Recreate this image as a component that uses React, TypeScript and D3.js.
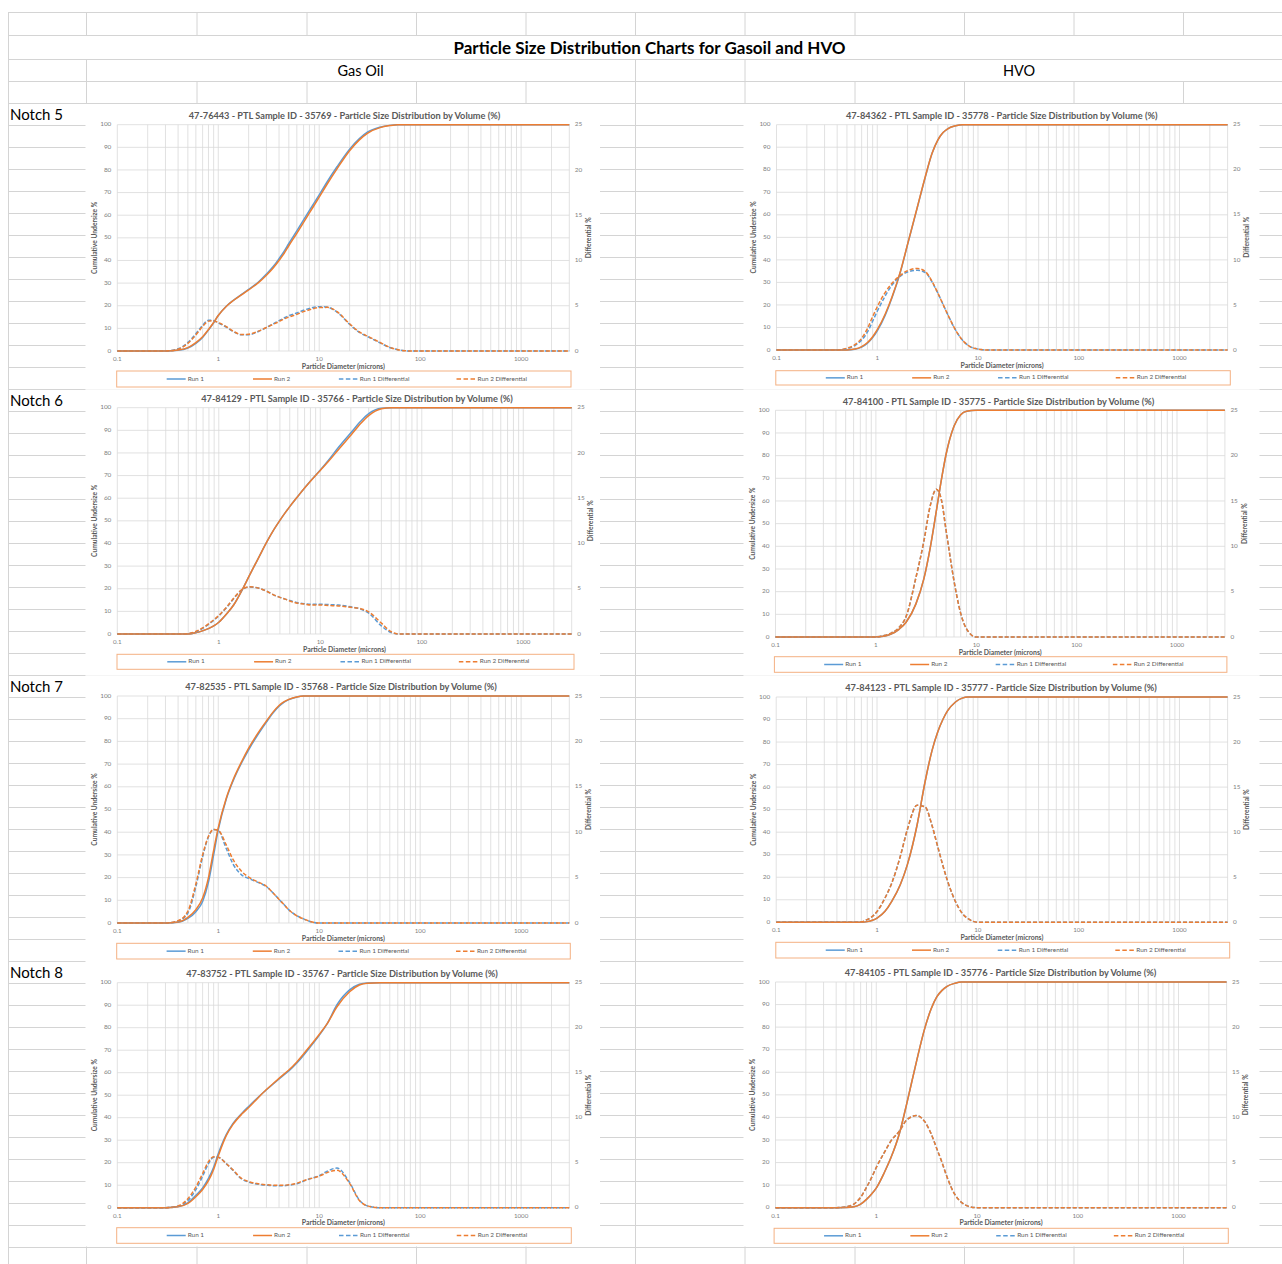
import * as d3 from "d3"

// particle diameters (microns) shared by every series
const SIZES = [0.1, 0.3, 0.4, 0.5, 0.6, 0.7, 0.8, 0.9, 1, 1.2, 1.4, 1.7, 2, 2.5, 3, 3.5, 4, 4.5, 5, 6, 7, 8, 10, 12, 15, 20, 25, 30, 40, 50, 60, 80, 100, 3000]

const X_LABELS = [0.1, 1, 10, 100, 1000]
const CUM_TICKS = [0, 10, 20, 30, 40, 50, 60, 70, 80, 90, 100]
const DIFF_TICKS = [0, 5, 10, 15, 20, 25]
const SERIES_NAMES = ["Run 1", "Run 2", "Run 1 Differential", "Run 2 Differential"]
const ROW_LABELS = ["Notch 5", "Notch 6", "Notch 7", "Notch 8"]

// Gas Oil - Notch 5
const GO5_RUN1 = [0, 0, 0.3, 1.3, 3.4, 6.0, 9.3, 12.5, 15.7, 19.8, 22.3, 25, 27.2, 30.5, 34, 37.3, 40.8, 44.1, 47.5, 53.1, 57.9, 62.1, 69, 74.8, 81.4, 89.2, 93.9, 96.7, 98.9, 99.7, 100, 100, 100, 100]
const GO5_RUN2 = [0, 0, 0.4, 1.5, 3.7, 6.3, 9.5, 12.6, 15.7, 19.7, 22.2, 24.8, 27, 30.2, 33.5, 36.7, 40, 43.2, 46.5, 52, 56.8, 61, 68, 73.8, 80.5, 88.5, 93.3, 96.2, 98.7, 99.6, 100, 100, 100, 100]
const GO5_DIFF1 = [0, 0, 0.25, 0.95, 1.9, 2.85, 3.4, 3.35, 3.1, 2.65, 2.15, 1.8, 1.8, 2.15, 2.6, 3.0, 3.35, 3.65, 3.9, 4.2, 4.5, 4.7, 4.9, 4.85, 4.3, 2.95, 2.05, 1.6, 0.9, 0.38, 0.14, 0, 0, 0]
const GO5_DIFF2 = [0, 0, 0.2, 0.85, 1.77, 2.7, 3.3, 3.35, 3.15, 2.7, 2.2, 1.82, 1.85, 2.2, 2.6, 2.95, 3.25, 3.55, 3.75, 4.05, 4.35, 4.55, 4.8, 4.82, 4.35, 3.0, 2.1, 1.65, 0.95, 0.4, 0.15, 0, 0, 0]

// Gas Oil - Notch 6
const GO6_RUN1 = [0, 0, 0, 0, 0.6, 1.5, 2.5, 3.7, 5.2, 9, 12.8, 19.5, 25.8, 34.2, 41, 46.2, 50.2, 53.5, 56.3, 60.8, 64.5, 67.6, 72.5, 76.7, 82.3, 88.9, 94, 97.4, 99.8, 100, 100, 100, 100, 100]
const GO6_RUN2 = [0, 0, 0, 0, 0.6, 1.5, 2.5, 3.7, 5.2, 9, 12.8, 19.5, 25.8, 34.2, 41, 46.2, 50.2, 53.5, 56.3, 60.8, 64.5, 67.5, 72.3, 76.2, 81.3, 87.8, 93, 96.5, 99.5, 100, 100, 100, 100, 100]
const GO6_DIFF1 = [0, 0, 0, 0.05, 0.25, 0.65, 1.1, 1.55, 2.0, 2.95, 3.9, 4.9, 5.2, 5.05, 4.7, 4.3, 4.05, 3.85, 3.7, 3.45, 3.35, 3.3, 3.3, 3.25, 3.2, 3.0, 2.75, 2.3, 0.9, 0.15, 0, 0, 0, 0]
const GO6_DIFF2 = [0, 0, 0, 0.05, 0.3, 0.7, 1.15, 1.6, 2.05, 3.0, 3.95, 4.95, 5.22, 5.05, 4.7, 4.3, 4.05, 3.85, 3.65, 3.4, 3.3, 3.2, 3.2, 3.15, 3.1, 2.95, 2.8, 2.45, 1.2, 0.25, 0, 0, 0, 0]

// Gas Oil - Notch 7
const GO7_RUN1 = [0, 0, 0.3, 2.0, 5.0, 9.5, 18, 30, 41, 54.5, 62.5, 70.5, 76.3, 83.3, 88.5, 92.6, 95.5, 97.3, 98.4, 99.6, 100, 100, 100, 100, 100, 100, 100, 100, 100, 100, 100, 100, 100, 100]
const GO7_RUN2 = [0, 0, 0.4, 2.5, 5.9, 11, 20, 32, 42, 55, 63, 71, 77, 84, 89, 93, 95.8, 97.5, 98.5, 99.6, 100, 100, 100, 100, 100, 100, 100, 100, 100, 100, 100, 100, 100, 100]
const GO7_DIFF1 = [0, 0, 0.2, 1.1, 4.0, 7.3, 9.5, 10.3, 10.2, 8.2, 6.5, 5.3, 4.9, 4.45, 4.0, 3.3, 2.6, 2.0, 1.45, 0.8, 0.45, 0.2, 0, 0, 0, 0, 0, 0, 0, 0, 0, 0, 0, 0]
const GO7_DIFF2 = [0, 0, 0.25, 1.3, 4.3, 7.5, 9.55, 10.3, 10.2, 8.6, 7.0, 5.7, 5.05, 4.5, 4.05, 3.3, 2.6, 2.0, 1.45, 0.8, 0.45, 0.2, 0, 0, 0, 0, 0, 0, 0, 0, 0, 0, 0, 0]

// Gas Oil - Notch 8
const GO8_RUN1 = [0, 0, 0.5, 2.2, 5.5, 8.8, 13, 18, 24, 32.5, 37.5, 41.8, 45, 49.2, 52.4, 55, 57.2, 59.1, 60.8, 64.3, 67.8, 71, 76.6, 81.8, 90.2, 96.8, 99.3, 99.9, 100, 100, 100, 100, 100, 100]
const GO8_RUN2 = [0, 0, 0.4, 1.9, 4.9, 8.1, 12, 17, 23, 32, 37, 41.5, 44.5, 49, 52.5, 55.2, 57.5, 59.5, 61.2, 64.8, 68.3, 71.5, 77, 81.8, 89.3, 96, 99, 99.8, 100, 100, 100, 100, 100, 100]
const GO8_DIFF1 = [0, 0, 0.15, 0.8, 2.0, 3.5, 4.9, 5.6, 5.6, 4.9, 4.15, 3.2, 2.85, 2.6, 2.5, 2.45, 2.45, 2.45, 2.5, 2.65, 2.95, 3.2, 3.55, 4.05, 4.4, 2.8, 0.85, 0.2, 0, 0, 0, 0, 0, 0]
const GO8_DIFF2 = [0, 0, 0.2, 1.0, 2.3, 3.8, 5.1, 5.65, 5.6, 4.9, 4.2, 3.25, 2.9, 2.65, 2.55, 2.5, 2.5, 2.5, 2.55, 2.7, 3.0, 3.2, 3.5, 3.9, 4.15, 2.7, 0.8, 0.2, 0, 0, 0, 0, 0, 0]

// HVO - Notch 5
const HVO5_RUN1 = [0, 0, 0, 0.05, 0.35, 1.3, 3.0, 5.5, 8.5, 15.5, 23.2, 34.7, 46.8, 63.3, 76.8, 87.3, 93.3, 96.5, 98.2, 99.5, 100, 100, 100, 100, 100, 100, 100, 100, 100, 100, 100, 100, 100, 100]
const HVO5_RUN2 = [0, 0, 0, 0.05, 0.4, 1.5, 3.3, 5.9, 9, 16, 23.5, 35, 47, 63.5, 77, 87.3, 93.3, 96.5, 98.2, 99.5, 100, 100, 100, 100, 100, 100, 100, 100, 100, 100, 100, 100, 100, 100]
const HVO5_DIFF1 = [0, 0, 0, 0.15, 0.5, 1.1, 2.0, 3.2, 4.3, 6.0, 7.2, 8.2, 8.65, 8.85, 8.6, 7.55, 6.3, 5.05, 3.95, 2.2, 1.1, 0.5, 0.1, 0, 0, 0, 0, 0, 0, 0, 0, 0, 0, 0]
const HVO5_DIFF2 = [0, 0, 0, 0.2, 0.6, 1.3, 2.4, 3.7, 4.8, 6.4, 7.4, 8.3, 8.8, 9.05, 8.7, 7.6, 6.3, 5.05, 3.95, 2.2, 1.1, 0.5, 0.1, 0, 0, 0, 0, 0, 0, 0, 0, 0, 0, 0]

// HVO - Notch 6
const HVO6_RUN1 = [0, 0, 0, 0, 0, 0, 0, 0, 0.05, 0.3, 1.2, 3.4, 6.5, 14.5, 25.5, 40, 55.5, 69.5, 80.5, 93, 98, 99.6, 100, 100, 100, 100, 100, 100, 100, 100, 100, 100, 100, 100]
const HVO6_RUN2 = [0, 0, 0, 0, 0, 0, 0, 0, 0.05, 0.3, 1.2, 3.4, 6.5, 14.5, 25.5, 40, 55.5, 69.5, 80.5, 93, 98, 99.6, 100, 100, 100, 100, 100, 100, 100, 100, 100, 100, 100, 100]
const HVO6_DIFF1 = [0, 0, 0, 0, 0, 0, 0, 0, 0, 0.15, 0.4, 1.05, 2.25, 6.5, 10.5, 14.6, 16.3, 15.1, 11.8, 6.2, 2.6, 0.9, 0, 0, 0, 0, 0, 0, 0, 0, 0, 0, 0, 0]
const HVO6_DIFF2 = [0, 0, 0, 0, 0, 0, 0, 0, 0, 0.15, 0.4, 1.05, 2.25, 6.5, 10.5, 14.6, 16.3, 15.1, 11.8, 6.2, 2.6, 0.9, 0, 0, 0, 0, 0, 0, 0, 0, 0, 0, 0, 0]

// HVO - Notch 7
const HVO7_RUN1 = [0, 0, 0, 0, 0, 0, 0.3, 0.9, 1.9, 4.9, 9.3, 16.7, 25.6, 43.3, 62.5, 76, 84.5, 90, 93.8, 97.8, 99.5, 100, 100, 100, 100, 100, 100, 100, 100, 100, 100, 100, 100, 100]
const HVO7_RUN2 = [0, 0, 0, 0, 0, 0, 0.3, 0.9, 1.9, 4.9, 9.3, 16.7, 25.6, 43.3, 62.5, 76, 84.5, 90, 93.8, 97.8, 99.5, 100, 100, 100, 100, 100, 100, 100, 100, 100, 100, 100, 100, 100]
const HVO7_DIFF1 = [0, 0, 0, 0, 0, 0.05, 0.3, 0.65, 1.2, 2.7, 4.35, 7.3, 10.3, 13.0, 12.8, 10.8, 8.4, 6.3, 4.6, 2.3, 1.0, 0.4, 0, 0, 0, 0, 0, 0, 0, 0, 0, 0, 0, 0]
const HVO7_DIFF2 = [0, 0, 0, 0, 0, 0.05, 0.3, 0.65, 1.2, 2.7, 4.35, 7.3, 10.3, 13.0, 12.8, 10.8, 8.4, 6.3, 4.6, 2.3, 1.0, 0.4, 0, 0, 0, 0, 0, 0, 0, 0, 0, 0, 0, 0]

// HVO - Notch 8
const HVO8_RUN1 = [0, 0, 0, 0.05, 0.4, 1.6, 3.7, 6.1, 8.7, 15.5, 22.2, 33, 45.8, 64.5, 78.8, 88, 93.5, 96.3, 98, 99.4, 100, 100, 100, 100, 100, 100, 100, 100, 100, 100, 100, 100, 100, 100]
const HVO8_RUN2 = [0, 0, 0, 0.05, 0.4, 1.6, 3.7, 6.1, 8.7, 15.5, 22.2, 33, 45.8, 64.5, 78.8, 88, 93.5, 96.3, 98, 99.4, 100, 100, 100, 100, 100, 100, 100, 100, 100, 100, 100, 100, 100, 100]
const HVO8_DIFF1 = [0, 0, 0, 0.1, 0.4, 1.15, 2.25, 3.35, 4.45, 6.1, 7.4, 8.5, 9.7, 10.2, 9.6, 8.2, 6.5, 5.0, 3.5, 1.5, 0.6, 0.2, 0, 0, 0, 0, 0, 0, 0, 0, 0, 0, 0, 0]
const HVO8_DIFF2 = [0, 0, 0, 0.1, 0.4, 1.15, 2.25, 3.35, 4.45, 6.1, 7.4, 8.5, 9.7, 10.2, 9.6, 8.2, 6.5, 5.0, 3.5, 1.5, 0.6, 0.2, 0, 0, 0, 0, 0, 0, 0, 0, 0, 0, 0, 0]

const GAS_OIL = [
  { title: "47-76443 - PTL Sample ID - 35769 - Particle Size Distribution by Volume (%)", series: [GO5_RUN1, GO5_RUN2, GO5_DIFF1, GO5_DIFF2] },
  { title: "47-84129 - PTL Sample ID - 35766 - Particle Size Distribution by Volume (%)", series: [GO6_RUN1, GO6_RUN2, GO6_DIFF1, GO6_DIFF2] },
  { title: "47-82535 - PTL Sample ID - 35768 - Particle Size Distribution by Volume (%)", series: [GO7_RUN1, GO7_RUN2, GO7_DIFF1, GO7_DIFF2] },
  { title: "47-83752 - PTL Sample ID - 35767 - Particle Size Distribution by Volume (%)", series: [GO8_RUN1, GO8_RUN2, GO8_DIFF1, GO8_DIFF2] },
]
const HVO = [
  { title: "47-84362 - PTL Sample ID - 35778 - Particle Size Distribution by Volume (%)", series: [HVO5_RUN1, HVO5_RUN2, HVO5_DIFF1, HVO5_DIFF2] },
  { title: "47-84100 - PTL Sample ID - 35775 - Particle Size Distribution by Volume (%)", series: [HVO6_RUN1, HVO6_RUN2, HVO6_DIFF1, HVO6_DIFF2] },
  { title: "47-84123 - PTL Sample ID - 35777 - Particle Size Distribution by Volume (%)", series: [HVO7_RUN1, HVO7_RUN2, HVO7_DIFF1, HVO7_DIFF2] },
  { title: "47-84105 - PTL Sample ID - 35776 - Particle Size Distribution by Volume (%)", series: [HVO8_RUN1, HVO8_RUN2, HVO8_DIFF1, HVO8_DIFF2] },
]

// layout of each embedded chart (page pixels)
const LEFT_FRAMES = [
  { bx0: 85.5, bx1: 600, by0: 104, by1: 389.5, l: 117.3, r: 569.3, t: 124.7, b: 351, tx: 344.5, ll: 116.7, lr: 571, lt: 371, lb: 387 },
  { bx0: 85.5, bx1: 600, by0: 389.5, by1: 675.5, l: 117.3, r: 571.7, t: 407.7, b: 634, tx: 357, ll: 117, lr: 574, lt: 654.3, lb: 669.3 },
  { bx0: 85.5, bx1: 600, by0: 675.5, by1: 962, l: 117.3, r: 569.3, t: 696, b: 923, tx: 341, ll: 116.7, lr: 570.3, lt: 943.3, lb: 959 },
  { bx0: 85.5, bx1: 600, by0: 962, by1: 1246.5, l: 117.3, r: 569.3, t: 982.7, b: 1207.7, tx: 342, ll: 116.7, lr: 571.3, lt: 1227.7, lb: 1243.3 },
]
const RIGHT_FRAMES = [
  { bx0: 743.5, bx1: 1259.5, by0: 104, by1: 389.5, l: 776.5, r: 1227.6, t: 124.7, b: 350, tx: 1001.7, ll: 775.8, lr: 1230.3, lt: 370.7, lb: 385 },
  { bx0: 743.5, bx1: 1259.5, by0: 389.5, by1: 675.5, l: 775.5, r: 1224.9, t: 410.3, b: 637, tx: 998.5, ll: 774.4, lr: 1226.9, lt: 656.7, lb: 672.3 },
  { bx0: 743.5, bx1: 1259.5, by0: 675.5, by1: 962, l: 776.2, r: 1227.6, t: 697, b: 922.3, tx: 1001, ll: 775.8, lr: 1229.7, lt: 942.3, lb: 958 },
  { bx0: 743.5, bx1: 1259.5, by0: 962, by1: 1246.5, l: 775.5, r: 1226.6, t: 982, b: 1207.7, tx: 1000.5, ll: 774.1, lr: 1228.3, lt: 1228.3, lb: 1243.3 },
]

const COL_X = [8, 86, 196.5, 306.5, 416, 525.5, 635, 744.5, 854.5, 964, 1073.5, 1183]
const ROW_Y = [12, 35, 59, 81, ...d3.range(103, 1270, 22)]
const LEGEND_POS = [0.11, 0.3, 0.489, 0.748]

const BLUE = "#5B9BD5"
const ORANGE = "#ED7D31"
const GRID = "#D9D9D9"
const SHEET = "#D4D4D4"
const TEXT = "#595959"
const FONT = "Lato, 'Open Sans', sans-serif"

const COLORS = [BLUE, ORANGE, BLUE, ORANGE]
const DASHED = [false, false, true, true]

function PsdChart({ chart, f }: { chart: { title: string; series: number[][] }; f: any }) {
  const x = d3.scaleLog().domain([0.1, 3000]).range([f.l, f.r])
  const yCum = d3.scaleLinear().domain([0, 100]).range([f.b, f.t])
  const yDiff = d3.scaleLinear().domain([0, 25]).range([f.b, f.t])

  const cumLine = d3
    .line<number>()
    .x((_, i) => x(SIZES[i]))
    .y((v) => yCum(v))
    .curve(d3.curveMonotoneX)
  const diffLine = d3
    .line<number>()
    .x((_, i) => x(SIZES[i]))
    .y((v) => yDiff(v))
    .curve(d3.curveMonotoneX)

  const lw = f.lr - f.ll
  const ly = (f.lt + f.lb) / 2
  const midY = (f.t + f.b) / 2

  return (
    <g fontFamily={FONT}>
      <rect x={f.bx0} y={f.by0} width={f.bx1 - f.bx0} height={f.by1 - f.by0} fill="#fff" />
      <text x={f.tx} y={f.t - 8} textAnchor="middle" dominantBaseline="middle" fontSize={9.2} fontWeight="bold" fill={TEXT}>
        {chart.title}
      </text>

      {/* rejilla */}
      {x.ticks().map((d) => (
        <line key={"v" + d} x1={x(d)} x2={x(d)} y1={f.t} y2={f.b} stroke={GRID} strokeWidth={0.8} />
      ))}
      {CUM_TICKS.map((d) => (
        <line key={"h" + d} x1={f.l} x2={f.r} y1={yCum(d)} y2={yCum(d)} stroke={GRID} strokeWidth={0.8} />
      ))}

      {/* series */}
      {chart.series.map((s, i) => (
        <path
          key={i}
          d={(i < 2 ? cumLine(s) : diffLine(s)) || ""}
          fill="none"
          stroke={COLORS[i]}
          strokeWidth={1.5}
          strokeDasharray={DASHED[i] ? "4,2" : undefined}
        />
      ))}

      {/* ejes */}
      {CUM_TICKS.map((d) => (
        <text key={"yl" + d} x={f.l - 6} y={yCum(d)} textAnchor="end" dominantBaseline="middle" fontSize={6.4} fill="#7F7F7F">
          {d}
        </text>
      ))}
      {DIFF_TICKS.map((d) => (
        <text key={"yr" + d} x={f.r + 5.5} y={yDiff(d)} dominantBaseline="middle" fontSize={6.4} fill="#7F7F7F">
          {d}
        </text>
      ))}
      {X_LABELS.map((d) => (
        <text key={"x" + d} x={x(d)} y={f.b + 8.3} textAnchor="middle" dominantBaseline="middle" fontSize={6.2} fill="#7F7F7F">
          {d}
        </text>
      ))}
      <text x={(f.l + f.r) / 2} y={f.b + 15.8} textAnchor="middle" dominantBaseline="middle" fontSize={6.9} fontWeight="bold" fill={TEXT}>
        Particle Diameter (microns)
      </text>
      <text
        transform={`translate(${f.l - 22},${midY}) rotate(-90)`}
        textAnchor="middle"
        dominantBaseline="middle"
        fontSize={6.7}
        fontWeight="bold"
        fill={TEXT}
      >
        Cumulative Undersize %
      </text>
      <text
        transform={`translate(${f.r + 20},${midY}) rotate(-90)`}
        textAnchor="middle"
        dominantBaseline="middle"
        fontSize={6.7}
        fontWeight="bold"
        fill={TEXT}
      >
        Differential %
      </text>

      {/* leyenda */}
      <rect x={f.ll} y={f.lt} width={lw} height={f.lb - f.lt} fill="#fff" stroke="#F4B183" strokeWidth={1} />
      {SERIES_NAMES.map((name, i) => {
        const lx = f.ll + LEGEND_POS[i] * lw
        return (
          <g key={name}>
            <line x1={lx} x2={lx + 19} y1={ly} y2={ly} stroke={COLORS[i]} strokeWidth={1.5} strokeDasharray={DASHED[i] ? "4.5,2.5" : undefined} />
            <text x={lx + 21} y={ly} dominantBaseline="middle" fontSize={6.4} fill={TEXT}>
              {name}
            </text>
          </g>
        )
      })}
    </g>
  )
}

export default function App() {
  const bands: [number, number][] = ROW_Y.slice(0, -1).map((y, i) => [y, ROW_Y[i + 1]])
  const colsFor = (y0: number) => {
    if (y0 === 35) return [8]
    if (y0 === 59) return [8, 86, 635, 744.5]
    return COL_X
  }

  return (
    <svg width={1282} height={1264} style={{ position: "absolute", left: 0, top: 0, background: "#fff" }}>
      <rect width={1282} height={1264} fill="#fff" />
      {/* hoja de cálculo */}
      {ROW_Y.map((y) => (
        <line key={"r" + y} x1={8} x2={1282} y1={y + 0.5} y2={y + 0.5} stroke={SHEET} strokeWidth={1} />
      ))}
      {bands.map(([y0, y1]) =>
        colsFor(y0).map((cx) => (
          <line key={`c${y0}-${cx}`} x1={cx + 0.5} x2={cx + 0.5} y1={y0} y2={y1} stroke={SHEET} strokeWidth={1} />
        )),
      )}

      <g fontFamily={FONT}>
        <text x={649.5} y={53.5} textAnchor="middle" fontSize={17} fontWeight="bold" fill="#000">
          Particle Size Distribution Charts for Gasoil and HVO
        </text>
        <text x={360.5} y={75.5} textAnchor="middle" fontSize={14.5} fill="#000">
          Gas Oil
        </text>
        <text x={1019} y={75.5} textAnchor="middle" fontSize={14.5} fill="#000">
          HVO
        </text>
        {ROW_LABELS.map((label, i) => (
          <text key={label} x={10} y={120 + i * 286} fontSize={15} fill="#000">
            {label}
          </text>
        ))}
      </g>

      {GAS_OIL.map((c, i) => (
        <PsdChart key={"go" + i} chart={c} f={LEFT_FRAMES[i]} />
      ))}
      {HVO.map((c, i) => (
        <PsdChart key={"hvo" + i} chart={c} f={RIGHT_FRAMES[i]} />
      ))}
    </svg>
  )
}
